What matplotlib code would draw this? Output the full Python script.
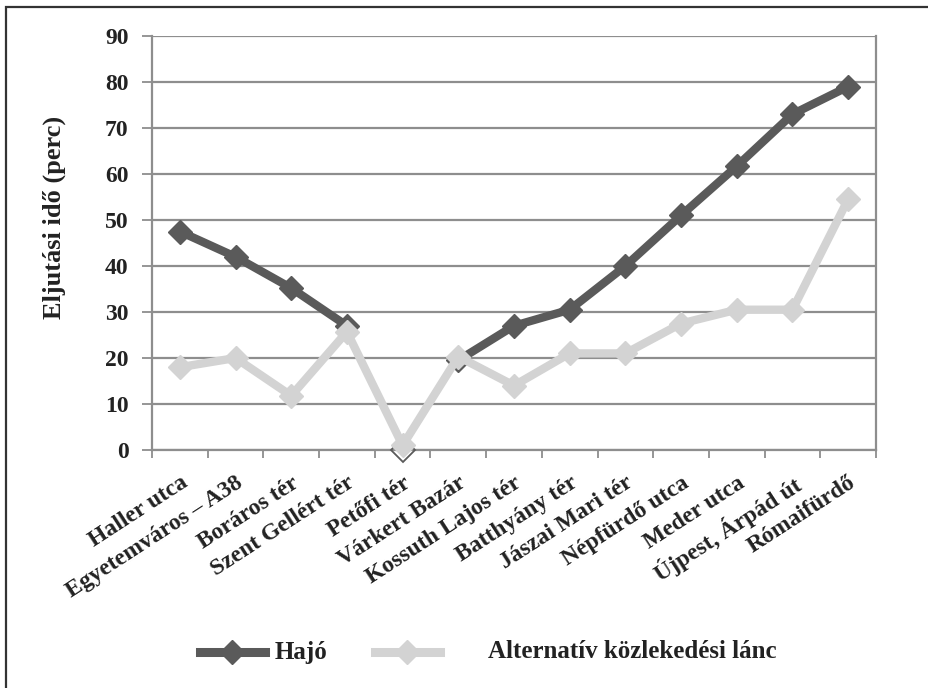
import matplotlib
matplotlib.use("Agg")
import matplotlib.pyplot as plt
import numpy as np
from matplotlib.lines import Line2D
from matplotlib.patches import Rectangle

categories = ["Haller utca", "Egyetemváros – A38", "Boráros tér", "Szent Gellért tér",
              "Petőfi tér", "Várkert Bazár", "Kossuth Lajos tér", "Batthyány tér",
              "Jászai Mari tér", "Népfürdő utca", "Meder utca", "Újpest, Árpád út",
              "Rómaifürdő"]
hajo = [47.5, 42, 35.2, 27, 0, 19.5, 27, 30.5, 40, 51, 61.7, 73, 79]
alt = [18, 20, 11.8, 25.7, 1, 20.3, 14, 21, 21, 27.5, 30.5, 30.5, 54.5]
series_names = ["Hajó", "Alternatív közlekedési lánc"]
yticks = [0, 10, 20, 30, 40, 50, 60, 70, 80, 90]

DARK = "#5a5a5a"
LIGHT = "#d3d3d3"
GRID = "#8e8e8e"
TXT = "#222222"
FONT = "Liberation Serif"

plt.rcParams['font.family'] = [FONT, 'DejaVu Serif']

W, H = 929, 688
fig = plt.figure(figsize=(W/100, H/100), dpi=100)
ax = fig.add_axes([152/W, 1-450/H, (876-152)/W, (450-36)/H])

x = np.arange(len(categories))
h = np.array(hajo, dtype=float)
a = np.array(alt, dtype=float)

# dark series: thick line except the segments through Petőfi tér (thin)
h_thick = h.copy()
h_thick[4] = np.nan
ax.plot(x, h_thick, color=DARK, lw=6, solid_capstyle='round', zorder=3)
ax.plot(x[3:6], h[3:6], color=DARK, lw=1.3, zorder=3, clip_on=False)
mask = np.ones(len(x), bool); mask[4] = False
ax.plot(x[mask], h[mask], ls='none', marker='D', ms=12, color=DARK, zorder=4)
ax.plot(x[4], h[4], ls='none', marker='D', ms=12, mfc='none', mec=DARK, mew=1.3,
        zorder=4, clip_on=False)

# light series on top
ax.plot(x, a, color=LIGHT, lw=6, marker='D', ms=12, zorder=5, clip_on=False)

ax.set_xlim(-0.5, len(categories) - 0.5)
ax.set_ylim(0, 90)
ax.set_yticks(yticks)
ax.set_yticklabels([str(v) for v in yticks], fontsize=17, fontweight='bold', color=TXT)
ax.grid(axis='y', color=GRID, lw=1.6, zorder=0)
ax.set_axisbelow(True)

ax.set_xticks(x)
ax.set_xticklabels(categories, rotation=33, ha='right', rotation_mode='anchor',
                   fontsize=17, fontweight='bold', color=TXT)
ax.tick_params(axis='x', which='major', length=0, pad=16)
ax.set_xticks(np.arange(len(categories) + 1) - 0.5, minor=True)
ax.tick_params(axis='x', which='minor', length=6, width=1.3, color=GRID, direction='out')
ax.tick_params(axis='y', length=7, width=1.3, color=GRID, direction='out', pad=10)

for side in ['left', 'right', 'bottom']:
    ax.spines[side].set_color(GRID)
    ax.spines[side].set_linewidth(1.6)
ax.spines['top'].set_visible(False)

fig.text(54/W, 1-217/H, "Eljutási idő (perc)", rotation=90, ha='center', va='center',
         fontsize=19, fontweight='bold', color=TXT)

# legend (manual layout)
ly = 1 - 652/H
fig.add_artist(Line2D([200/W, 265/W], [ly, ly], color=DARK, lw=6.5, transform=fig.transFigure))
fig.add_artist(Line2D([232/W], [ly], color=DARK, marker='D', ms=12, transform=fig.transFigure))
fig.text(275/W, ly, series_names[0], ha='left', va='center', fontsize=18,
         fontweight='bold', color=TXT)
fig.add_artist(Line2D([375/W, 440/W], [ly, ly], color=LIGHT, lw=6.5, transform=fig.transFigure))
fig.add_artist(Line2D([407/W], [ly], color=LIGHT, marker='D', ms=12, transform=fig.transFigure))
fig.text(488/W, ly, series_names[1], ha='left', va='center', fontsize=18,
         fontweight='bold', color=TXT)

# outer frame
fig.patches.append(Rectangle((6/W, -0.05), 1.2, 1-7/H+0.05, transform=fig.transFigure,
                             fill=False, ec='#333333', lw=1.6))

fig.savefig("out.png", dpi=100)
